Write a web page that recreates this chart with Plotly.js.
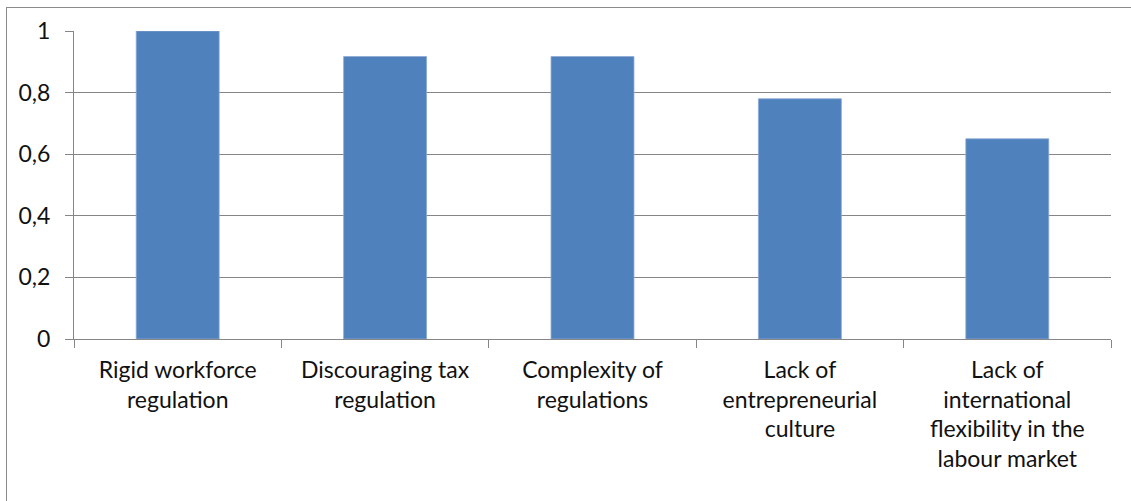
<!DOCTYPE html>
<html>
<head>
<meta charset="utf-8">
<script src="https://cdn.plot.ly/plotly-3.0.1.min.js"></script>
<style>
  html, body { margin: 0; padding: 0; background: #fff; }
  #wrap { position: relative; width: 1131px; height: 501px; }
  #chart { position: absolute; left: 0; top: 0; width: 1131px; height: 501px; }
  #frame { position: absolute; left: 6px; top: 7px; width: 1125px; height: 494px;
           border-top: 1px solid #8c8c8c; border-left: 1px solid #8c8c8c; pointer-events: none; }
</style>
</head>
<body>
<div id="wrap">
  <div id="chart"></div>
  <div id="frame"></div>
</div>
<script>
const categories = [
  "Rigid workforce<br>regulation",
  "Discouraging tax<br>regulation",
  "Complexity of<br>regulations",
  "Lack of<br>entrepreneurial<br>culture",
  "Lack of<br>international<br>flexibility in the<br>labour market"
];
const values = [1, 0.917, 0.917, 0.78, 0.65];
const yTickVals = [0, 0.2, 0.4, 0.6, 0.8, 1];
const yTickText = ["0", "0,2", "0,4", "0,6", "0,8", "1"];

const font = { family: "Lato, 'Open Sans', sans-serif", size: 23, color: "#111" };

Plotly.newPlot("chart", [{
  type: "bar",
  x: categories,
  y: values,
  marker: { color: "#4F81BD", line: { color: "#8eaad6", width: 0.8 } },
  width: 0.4,
  hoverinfo: "skip"
}], {
  width: 1131, height: 501,
  margin: { l: 74, r: 20, t: 31, b: 162 },
  paper_bgcolor: "#ffffff",
  plot_bgcolor: "#ffffff",
  font: font,
  showlegend: false,
  xaxis: {
    type: "category",
    showgrid: false,
    showline: true, linecolor: "#868686", linewidth: 1,
    ticks: "outside", tickson: "boundaries", ticklen: 8, tickcolor: "#868686",
    tickfont: font,
    ticklabelstandoff: 10,
    zeroline: false
  },
  yaxis: {
    range: [0, 1],
    tickvals: yTickVals, ticktext: yTickText,
    showgrid: true, gridcolor: "#868686", gridwidth: 1,
    showline: true, linecolor: "#868686", linewidth: 1,
    ticks: "outside", ticklen: 8, tickcolor: "#868686",
    tickfont: font,
    ticklabelstandoff: 10,
    zeroline: false,
    fixedrange: true
  }
}, { displayModeBar: false, staticPlot: true });
</script>
</body>
</html>
